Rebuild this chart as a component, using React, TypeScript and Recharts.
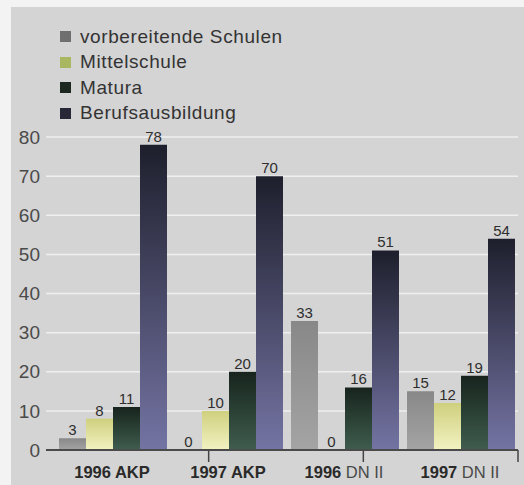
import { Bar, BarChart, CartesianGrid, LabelList, XAxis, YAxis } from "recharts";

const categories = ["1996 AKP", "1997 AKP", "1996 DN II", "1997 DN II"];
const vorbereitende = [3, 0, 33, 15];
const mittelschule = [8, 10, 0, 12];
const matura = [11, 20, 16, 19];
const berufsausbildung = [78, 70, 51, 54];
const yTicks = [0, 10, 20, 30, 40, 50, 60, 70, 80];
const separators = [1, 2, 3];

const series = [
	{ key: "vorbereitende", name: "vorbereitende Schulen", swatch: "#6f6f6f", top: "#888888", bottom: "#a4a4a4" },
	{ key: "mittelschule", name: "Mittelschule", swatch: "#a9b860", top: "#cfd07e", bottom: "#f2f2c2" },
	{ key: "matura", name: "Matura", swatch: "#1d2920", top: "#17241d", bottom: "#3f5d4e" },
	{ key: "beruf", name: "Berufsausbildung", swatch: "#262838", top: "#1e1f2c", bottom: "#7474a4" },
];

const data = categories.map((name, i) => ({
	name,
	vorbereitende: vorbereitende[i],
	mittelschule: mittelschule[i],
	matura: matura[i],
	beruf: berufsausbildung[i],
}));

const CategoryTick = (props: any) => {
	const { x, y, payload } = props;
	const [year, ...rest] = String(payload.value).split(" ");
	const suffix = rest.join(" ");
	const akp = suffix === "AKP";
	return (
		<text x={x} y={y + 19} textAnchor="middle" fontSize={16.5} fontFamily="Liberation Sans, Arial, sans-serif">
			<tspan fontWeight="bold" fill="#2a2a2a">{year}</tspan>
			<tspan fill={akp ? "#2a2a2a" : "#4a4a4a"} fontWeight={akp ? "bold" : "normal"}>
				{" " + suffix}
			</tspan>
		</text>
	);
};

export default function App() {
	return (
		<div style={{ position: "absolute", left: 0, top: 0, width: 524, height: 485, background: "#f3f3f3", fontFamily: "Liberation Sans, Arial, sans-serif" }}>
			<div style={{ position: "absolute", left: 11, top: 7, right: 0, bottom: 0, background: "#d4d4d4" }} />
			<div style={{ position: "absolute", left: 60, top: 24 }}>
				{series.map((s) => (
					<div key={s.key} style={{ display: "flex", alignItems: "center", height: 25.5, fontSize: 19, letterSpacing: 0.6, color: "#333" }}>
						<span style={{ width: 11, height: 11, background: s.swatch, marginRight: 9 }} />
						{s.name}
					</div>
				))}
			</div>
			<div style={{ position: "absolute", left: 0, top: 0 }}>
				<BarChart
					width={524}
					height={485}
					data={data}
					margin={{ top: 137, right: 6, left: 0, bottom: 0 }}
					barGap={0}
					barCategoryGap={5}
				>
					<defs>
						{series.map((s) => (
							<linearGradient key={s.key} id={"grad-" + s.key} x1="0" y1="0" x2="0" y2="1">
								<stop offset="0%" stopColor={s.top} />
								<stop offset="100%" stopColor={s.bottom} />
							</linearGradient>
						))}
					</defs>
					<CartesianGrid vertical={false} stroke="#efefef" strokeWidth={1.5} xAxisId="b_cat" horizontalValues={yTicks.slice(1)} />
					<XAxis
						xAxisId="b_cat"
						dataKey="name"
						padding={{ left: 8, right: 0 }}
						axisLine={false}
						tickLine={false}
						tick={<CategoryTick />}
						height={34}
						interval={0}
					/>
					<XAxis
						xAxisId="a_sep"
						type="number"
						domain={[0, 4]}
						ticks={separators}
						padding={{ left: 8, right: 0 }}
						axisLine={{ stroke: "#4a4a4a", strokeWidth: 2 }}
						tickLine={{ stroke: "#444", strokeWidth: 1.5 }}
						tickSize={12}
						tickFormatter={() => ""}
						height={1}
					/>
					<YAxis
						domain={[0, 80]}
						ticks={yTicks}
						width={46}
						axisLine={false}
						tickLine={false}
						tickSize={4}
						tickMargin={2}
						tick={{ fill: "#4a4a4a", fontSize: 19, fontFamily: "Liberation Sans, Arial, sans-serif" }}
					/>
					{series.map((s) => (
						<Bar
							key={s.key}
							xAxisId="b_cat"
							dataKey={s.key}
							name={s.name}
							fill={`url(#grad-${s.key})`}
							minPointSize={0.1}
							isAnimationActive={false}
						>
							<LabelList dataKey={s.key} position="top" offset={3} fill="#2e2e2e" fontSize={15} />
						</Bar>
					))}
				</BarChart>
			</div>
		</div>
	);
}
